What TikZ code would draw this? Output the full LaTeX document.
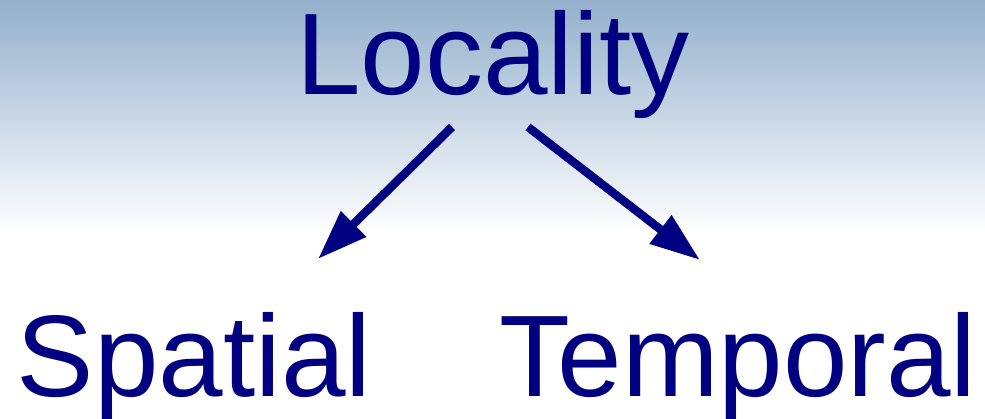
\documentclass[tikz,border=0pt]{standalone}
\usepackage{fontspec}
\setmainfont{Liberation Sans}
\usetikzlibrary{arrows.meta}
\definecolor{inknavy}{RGB}{0,0,128}
\definecolor{skytop}{RGB}{148,176,204}
\begin{document}
\begin{tikzpicture}[x=1pt,y=-1pt,
  word/.style={text=inknavy,anchor=base,inner sep=0pt,
    font=\fontsize{116}{120}\selectfont},
  link/.style={draw=inknavy,line width=8.5pt,
    -{Triangle[length=50pt,width=34pt]}}]
  % page frame and sky gradient
  \useasboundingbox (0,0) rectangle (985,418);
  \fill[white] (0,0) rectangle (985,418);
  \shade[top color=skytop,bottom color=white] (0,0) rectangle (985,235);
  % labels
  \node[word] (loc) at (493,94) {Locality};
  \node[word] (spa) at (194,396) {Spatial};
  \node[word] (tem) at (738,396) {Temporal};
  % arrow ends
  \coordinate (locL) at (452,127);
  \coordinate (locR) at (528,127);
  \coordinate (spaT) at (318,259);
  \coordinate (temT) at (700,260);
  \draw[link] (locL) -- (spaT);
  \draw[link] (locR) -- (temT);
\end{tikzpicture}
\end{document}
